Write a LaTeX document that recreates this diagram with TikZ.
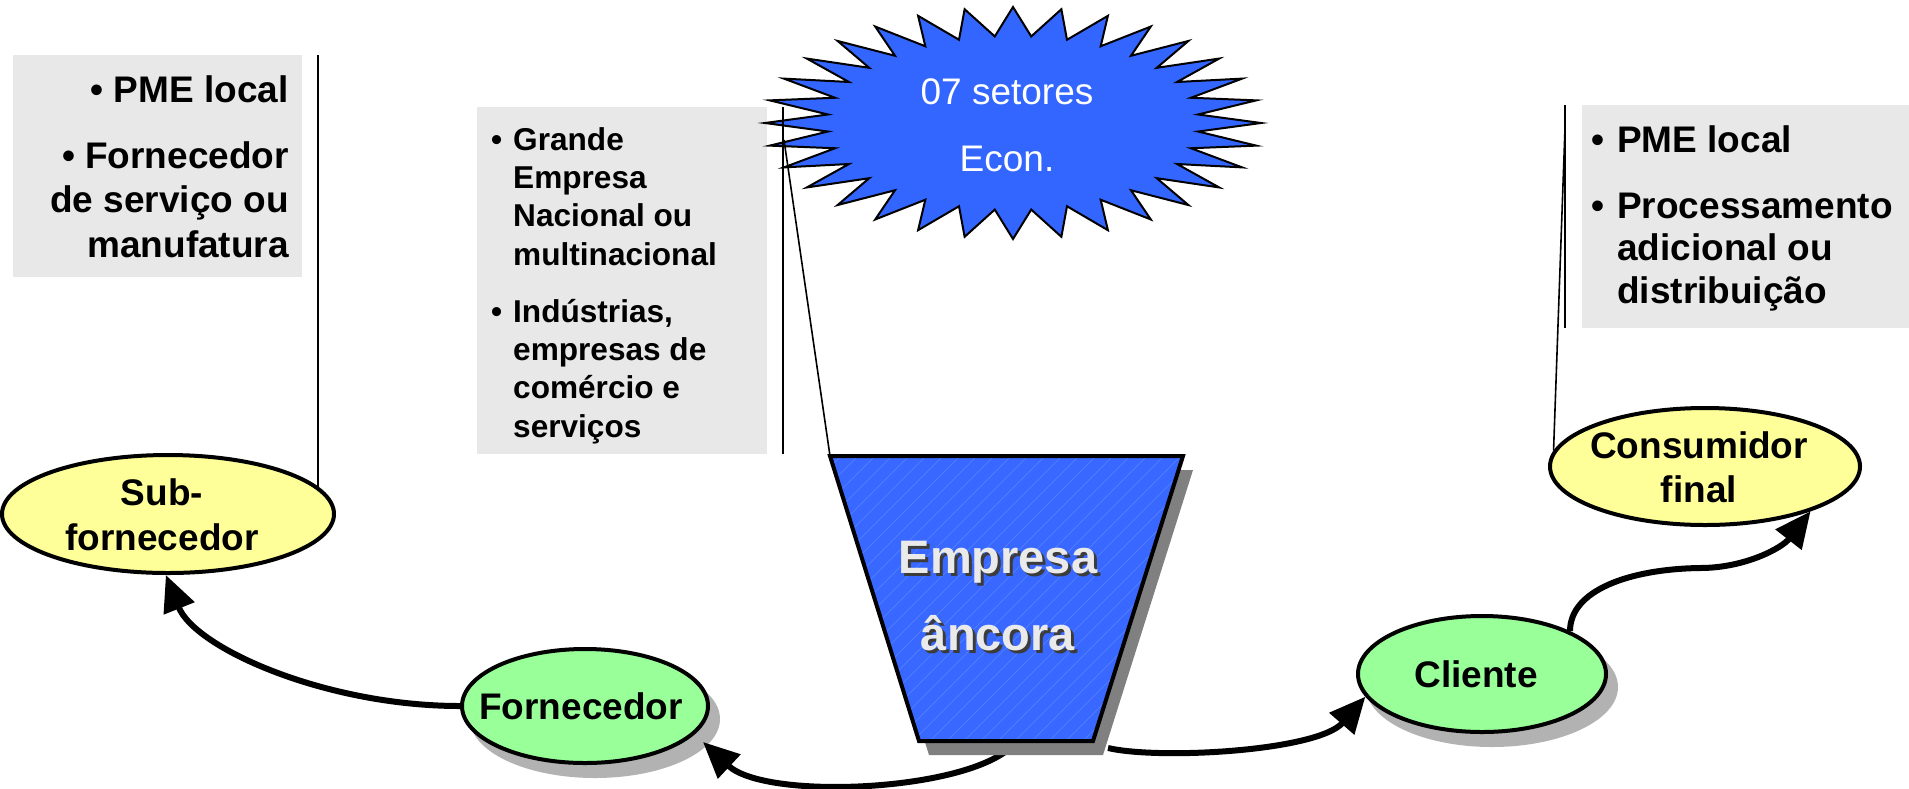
\documentclass[tikz,border=0pt]{standalone}
\usepackage{fontspec}
\setmainfont{Liberation Sans}
\usetikzlibrary{arrows.meta,shapes.geometric}
\definecolor{boxgray}{RGB}{232,232,232}
\definecolor{starblue}{RGB}{51,102,255}
\definecolor{trapblue}{RGB}{56,104,255}
\definecolor{ellyellow}{RGB}{255,255,153}
\definecolor{ellgreen}{RGB}{153,255,153}
\definecolor{shadowlight}{RGB}{178,178,178}
\definecolor{shadowdark}{RGB}{128,128,128}
\definecolor{anchortext}{RGB}{234,234,234}
\definecolor{anchorshade}{RGB}{60,60,60}
\begin{document}
\begin{tikzpicture}[x=1pt,y=-1pt,
  infobox/.style={fill=boxgray, draw=none, inner sep=0pt, anchor=north west},
  bigtext/.style={font=\bfseries\fontsize{37pt}{44.5pt}\selectfont, inner sep=0pt},
  midtext/.style={font=\bfseries\fontsize{31.6pt}{38.3pt}\selectfont, inner sep=0pt},
  righttext/.style={font=\bfseries\fontsize{37pt}{42.5pt}\selectfont, inner sep=0pt},
  elltext/.style={font=\bfseries\fontsize{37pt}{45pt}\selectfont, inner sep=0pt, align=center},
  startext/.style={font=\fontsize{37pt}{67pt}\selectfont, text=white, inner sep=0pt, align=center},
  anctext/.style={font=\bfseries\fontsize{47pt}{77pt}\selectfont, inner sep=0pt, align=center},
  ellnode/.style={ellipse, draw=black, line width=4pt, inner sep=0pt},
  flow/.style={line width=6pt, -{Triangle[length=36pt,width=32pt]}},
  callout/.style={line width=1.6pt},
  starshape/.style={fill=starblue, draw=black, line width=2pt, line join=miter},
]
\useasboundingbox (0,0) rectangle (1909,788);

% ---------- gray text boxes ----------
\node[infobox, minimum width=289pt, minimum height=222pt] (boxL) at (13,55) {};
\node[infobox, minimum width=290pt, minimum height=347pt] (boxM) at (477,107) {};
\node[infobox, minimum width=327pt, minimum height=223pt] (boxR) at (1582,105) {};

\node[bigtext, align=right, anchor=north east] (txtL) at (289,72)
  {\rule{0pt}{30pt}• PME local\\[21.5pt]• Fornecedor\\de serviço ou\\manufatura};
\node[midtext, align=left, anchor=north west] (txtM) at (491,124)
  {\rule{0pt}{26pt}\makebox[22pt][l]{•}Grande\\
   \hspace*{22pt}Empresa\\
   \hspace*{22pt}Nacional ou\\
   \hspace*{22pt}multinacional\\[18.7pt]
   \makebox[22pt][l]{•}Indústrias,\\
   \hspace*{22pt}empresas de\\
   \hspace*{22pt}comércio e\\
   \hspace*{22pt}serviços};
\node[righttext, align=left, anchor=north west] (txtR) at (1591,122)
  {\rule{0pt}{30pt}\makebox[26pt][l]{•}PME local\\[23.5pt]
   \makebox[26pt][l]{•}Processamento\\
   \hspace*{26pt}adicional ou\\
   \hspace*{26pt}distribuição};

% ---------- star ----------
\draw[starshape] (1261,123)
  \foreach \i in {1,...,63} { -- ({1013+248*(1-0.25*mod(\i,2))*cos(\i*5.625)},{123-116*(1-0.25*mod(\i,2))*sin(\i*5.625)}) }
  -- cycle;
\node[startext, anchor=north] (txtStar) at (1007,74) {\rule{0pt}{30pt}07 setores\\Econ.};

% ---------- ellipse shadows ----------
\fill[shadowlight] (595,719) ellipse [x radius=125pt, y radius=59pt];
\fill[shadowlight] (1492,687) ellipse [x radius=126pt, y radius=60pt];

% ---------- ellipses ----------
\node[ellnode, fill=ellyellow, minimum width=332pt, minimum height=118pt] (sub) at (168,514) {};
\node[ellnode, fill=ellgreen, minimum width=246pt, minimum height=114pt] (forn) at (585,706) {};
\node[ellnode, fill=ellgreen, minimum width=248pt, minimum height=116pt] (cli) at (1482,674) {};
\node[ellnode, fill=ellyellow, minimum width=310pt, minimum height=117pt] (cons) at (1705,466.5) {};

\node[elltext, anchor=north] (txtSub) at (162,473) {\rule{0pt}{32pt}Sub-\\fornecedor};
\node[elltext, anchor=base] (txtForn) at (581,719) {Fornecedor};
\node[elltext, anchor=base] (txtCli) at (1476,687) {Cliente};
\node[elltext, anchor=north, font=\bfseries\fontsize{37pt}{44pt}\selectfont] (txtCons) at (1699,426) {\rule{0pt}{32pt}Consumidor\\final};

% ---------- callout lines ----------
\coordinate (calL) at (318,55);
\coordinate (calMt) at (783,107);
\coordinate (calMb) at (783,454);
\coordinate (calMp) at (784,140);
\coordinate (calRt) at (1565,105);
\coordinate (calRb) at (1565,328);
\coordinate (calRp) at (1565,128);
\coordinate (trapTL) at (830,456);
\coordinate (trapTR) at (1183,456);
\coordinate (trapBR) at (1093,741);
\coordinate (trapBL) at (919,741);
\draw[callout] (calL) -- (calL |- sub.10);
\draw[callout] (calMt) -- (calMb);
\draw[callout] (calMp) -- (trapTL);
\draw[callout] (calRt) -- (calRb);
\draw[callout] (calRp) -- (cons.174);

% ---------- connectors ----------
\coordinate (trapOutL) at (1010,748);
\coordinate (trapOutR) at (1108,748);
\coordinate (fornIn) at (703,742);
\draw[flow] (forn.west) .. controls (325,706) and (195,648) .. (sub.268);
\draw[flow] (trapOutL) .. controls (960,792) and (765,800) .. (fornIn);
\draw[flow] (trapOutR) .. controls (1160,760) and (1318,751) .. (cli.191);
\draw[flow] (cli.26) .. controls (1570,590) and (1630,569) .. (1700,568)
  .. controls (1745,568) and (1782,548) .. (cons.-23);

% ---------- anchor company trapezoid ----------
\fill[shadowdark] (840,470) -- (1193,470) -- (1103,755) -- (929,755) -- cycle;
\fill[trapblue] (trapTL) -- (trapTR) -- (trapBR) -- (trapBL) -- cycle;
\begin{scope}
  \clip (trapTL) -- (trapTR) -- (trapBR) -- (trapBL) -- cycle;
  \foreach \k in {0,...,40} \draw[white, opacity=0.18, line width=0.6pt] ({520+\k*17},760) -- ++(320,-320);
\end{scope}
\draw[line width=4pt, line join=miter] (trapTL) -- (trapTR) -- (trapBR) -- (trapBL) -- cycle;
\node[anctext, text=anchorshade, anchor=north] (txtAncS) at (1001,536) {\rule{0pt}{40pt}Empresa\\âncora};
\node[anctext, text=anchortext, anchor=north] (txtAnc) at (998,533) {\rule{0pt}{40pt}Empresa\\âncora};
\end{tikzpicture}
\end{document}
